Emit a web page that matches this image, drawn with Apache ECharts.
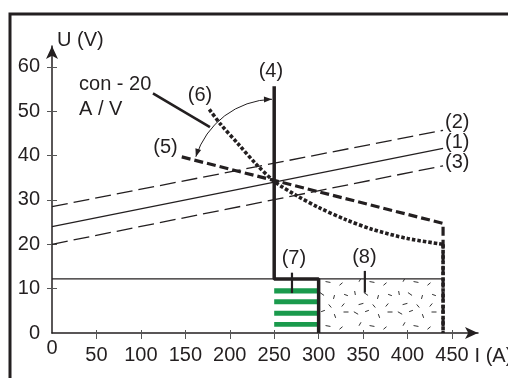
<!DOCTYPE html>
<html>
<head>
<meta charset="utf-8">
<script src="https://cdn.jsdelivr.net/npm/echarts@6/dist/echarts.min.js"></script>
<style>
html, body { margin: 0; padding: 0; background: #fff; }
#chart { width: 508px; height: 378px; }
</style>
</head>
<body>
<div id="chart"></div>
<script>
// tick labels
const xTicks = [0, 50, 100, 150, 200, 250, 300, 350, 400, 450]
const yTicks = [0, 10, 20, 30, 40, 50, 60]

// characteristics (1) (2) (3) : [I (A), U (V)]
const line1 = [[0, 24], [440, 41.6]]
const line2 = [[0, 28.5], [440, 45.7]]
const line3 = [[0, 20], [440, 37.7]]
// (4) current limit, going round field (7)
const line4 = [[250, 55.6], [250, 12.2], [300, 12.2], [300, 0]]
// (5)
const line5 = [[146, 39.7], [440, 24.7], [440, 0]]
// (6)
const line6 = [[177, 50.4], [190, 47], [210, 42.5], [230, 38], [250, 34.2], [275, 31], [300, 28.3], [330, 25.6], [360, 23.4], [400, 21.3], [440, 20]]
const line6Drop = [[440, 20], [440, 0]]
// lower voltage limit
const baseLine = [[0, 12.2], [440, 12.2]]
// pointer from the "con - 20" note
const pointer = [[113.6, 54], [177.7, 46.4]]
// turning arc: centre I,U / start I,U / end I,U
const arc = [[250, 34.2, 247.5, 52.7, 164, 39.6]]
// fields (7) and (8)
const field7 = [[250, 0], [300, 12.2]]
const field8 = [[300, 0], [440, 12.2]]
const stripes = [[1.4, 2.5], [3.9, 5.0], [6.5, 7.6], [8.9, 10.1]]
const tick7 = [[270, 9.0], [270, 13.6]]
const tick8 = [[352, 9.1], [352, 14.0]]
// text tags: [I, U, text] (centre of the text)
const tags = [
  [246.3, 59.0, '(4)'],
  [127.7, 41.9, '(5)'],
  [166.5, 53.5, '(6)'],
  [272.2, 16.7, '(7)'],
  [351.5, 17.1, '(8)']
]
// note, anchored at its left edge
const note = [[30.4, 56.1, 'con - 20'], [30.4, 50.3, 'A / V']]

const ink = '#231f20'
const font = 'Liberation Sans'
const fs = 20

// speckle texture for field (8)
const specks = [[4,5,30,5],[15,3,-20,4],[27,8,70,4],[38,4,0,5],[8,16,-60,4],[20,18,10,5],[33,20,-40,4],[3,29,80,4],[14,30,35,5],[26,33,-75,4],[38,31,20,4],[9,40,-15,5],[22,42,50,4],[35,41,-50,4]]
function speckle() {
  const c = document.createElement('canvas')
  c.width = 44; c.height = 44
  const g = c.getContext('2d')
  g.strokeStyle = '#333'; g.lineWidth = 1
  specks.forEach(([x, y, a, l]) => {
    const r = a * Math.PI / 180, dx = Math.cos(r) * l / 2, dy = Math.sin(r) * l / 2
    g.beginPath(); g.moveTo(x - dx, y - dy); g.lineTo(x + dx, y + dy); g.stroke()
  })
  return c
}

const text = { fontSize: fs, fontFamily: font, color: ink, textBorderWidth: 0 }

function lineSeries(data, width, type, extra) {
  return Object.assign({
    type: 'line', data, symbol: 'none', silent: true, z: 5,
    lineStyle: { color: ink, width, type: type || 'solid', cap: 'butt' }
  }, extra || {})
}
function endTag(label, dy) {
  return { endLabel: Object.assign({ show: true, formatter: label, distance: 2, offset: [0, dy] }, text) }
}
function textSeries(data, align) {
  return {
    type: 'custom', coordinateSystem: 'cartesian2d', data, silent: true, z: 7,
    renderItem(params, api) {
      const p = api.coord([api.value(0), api.value(1)])
      return {
        type: 'text', x: p[0], y: p[1],
        style: { text: data[params.dataIndex][2], fill: ink, font: fs + 'px "' + font + '"', align, verticalAlign: 'middle' }
      }
    }
  }
}

const option = {
  animation: false,
  textStyle: { fontFamily: font, fontSize: fs, color: ink },
  graphic: [{
    type: 'rect', shape: { x: 10, y: 14, width: 600, height: 500 },
    style: { fill: null, stroke: ink, lineWidth: 3 }, z: 100
  }],
  grid: { left: 52, right: 30, top: 46, bottom: 45, outerBoundsMode: 'none' },
  xAxis: [{
    type: 'value', min: 0, max: 479.3, interval: 50, position: 'bottom',
    axisLine: { show: true, symbol: ['none', 'arrow'], symbolSize: [9, 13], lineStyle: { color: ink, width: 1.5 } },
    axisTick: { show: true, length: 6, customValues: xTicks.slice(1), lineStyle: { color: '#555', width: 1 } },
    axisLabel: Object.assign({ customValues: xTicks.slice(1), margin: 12 }, text),
    splitLine: { show: false },
    name: 'I (A)', nameLocation: 'end', nameGap: -6,
    nameTextStyle: Object.assign({ align: 'left', verticalAlign: 'top', padding: [13, 0, 0, 0] }, text)
  }, {
    type: 'value', min: 0, max: 479.3, interval: 50, position: 'bottom',
    axisLine: { show: false },
    axisTick: { show: true, inside: true, length: 3, customValues: xTicks.slice(1), lineStyle: { color: '#555', width: 1 } },
    axisLabel: Object.assign({ customValues: [0], margin: 5 }, text),
    splitLine: { show: false }
  }],
  yAxis: [{
    type: 'value', min: 0, max: 64.7, interval: 10, position: 'left',
    axisLine: { show: true, symbol: ['none', 'arrow'], symbolSize: [9, 13], lineStyle: { color: ink, width: 1.5 } },
    axisTick: { show: true, length: 5, customValues: yTicks.slice(1), lineStyle: { color: '#555', width: 1 } },
    axisLabel: Object.assign({ customValues: yTicks, margin: 12 }, text),
    splitLine: { show: false },
    name: 'U (V)', nameLocation: 'end', nameGap: 6,
    nameTextStyle: Object.assign({ align: 'left', verticalAlign: 'middle', padding: [0, 0, 0, 5] }, text)
  }, {
    type: 'value', min: 0, max: 64.7, interval: 10, position: 'left', offset: 0,
    axisLine: { show: false },
    axisTick: { show: true, inside: true, length: 5, customValues: yTicks.slice(1), lineStyle: { color: '#555', width: 1 } },
    axisLabel: { show: false },
    splitLine: { show: false }
  }],
  series: [
    lineSeries(baseLine, 1.2, 'solid', {
      markArea: {
        silent: true,
        data: [
          [{ coord: field8[0], itemStyle: { color: { image: speckle(), repeat: 'repeat' } } }, { coord: field8[1] }]
        ].concat(stripes.map(s => [
          { coord: [field7[0][0], s[0]], itemStyle: { color: '#1a9a4c' } },
          { coord: [field7[1][0], s[1]] }
        ]))
      }
    }),
    lineSeries(line1, 1.3, 'solid', endTag('(1)', -6)),
    lineSeries(line2, 1.3, [16, 6], endTag('(2)', -8)),
    lineSeries(line3, 1.3, [16, 6], endTag('(3)', -3)),
    lineSeries(line5, 3.2, [9, 4]),
    lineSeries(line6, 3.6, [3.5, 2], { smooth: 0.3 }),
    lineSeries(line6Drop, 3.6, [3.5, 2]),
    lineSeries(line4, 3.5),
    lineSeries(pointer, 2.6),
    lineSeries(tick7, 2.2),
    lineSeries(tick8, 2.2),
    {
      type: 'custom', coordinateSystem: 'cartesian2d', data: arc, silent: true, z: 6,
      renderItem(params, api) {
        const c = api.coord([api.value(0), api.value(1)])
        const s = api.coord([api.value(2), api.value(3)])
        const e = api.coord([api.value(4), api.value(5)])
        const r = Math.hypot(s[0] - c[0], s[1] - c[1])
        const a1 = Math.atan2(s[1] - c[1], s[0] - c[0])
        const a2 = Math.atan2(e[1] - c[1], e[0] - c[0])
        const ep = [c[0] + r * Math.cos(a2), c[1] + r * Math.sin(a2)]
        const head = (p, d) => {
          const L = 8, W = 3
          const bx = p[0] - d[0] * L, by = p[1] - d[1] * L
          return {
            type: 'polygon',
            shape: { points: [p, [bx - d[1] * W, by + d[0] * W], [bx + d[1] * W, by - d[0] * W]] },
            style: { fill: ink }
          }
        }
        return {
          type: 'group',
          children: [
            { type: 'arc', shape: { cx: c[0], cy: c[1], r, startAngle: a2, endAngle: a1, clockwise: true }, style: { stroke: ink, lineWidth: 1, fill: null } },
            head(s, [-Math.sin(a1), Math.cos(a1)]),
            head(ep, [Math.sin(a2), -Math.cos(a2)])
          ]
        }
      }
    },
    textSeries(tags, 'center'),
    textSeries(note, 'left')
  ]
}

const chart = echarts.init(document.getElementById('chart'))
chart.setOption(option)
window.addEventListener('resize', () => chart.resize())
</script>
</body>
</html>
